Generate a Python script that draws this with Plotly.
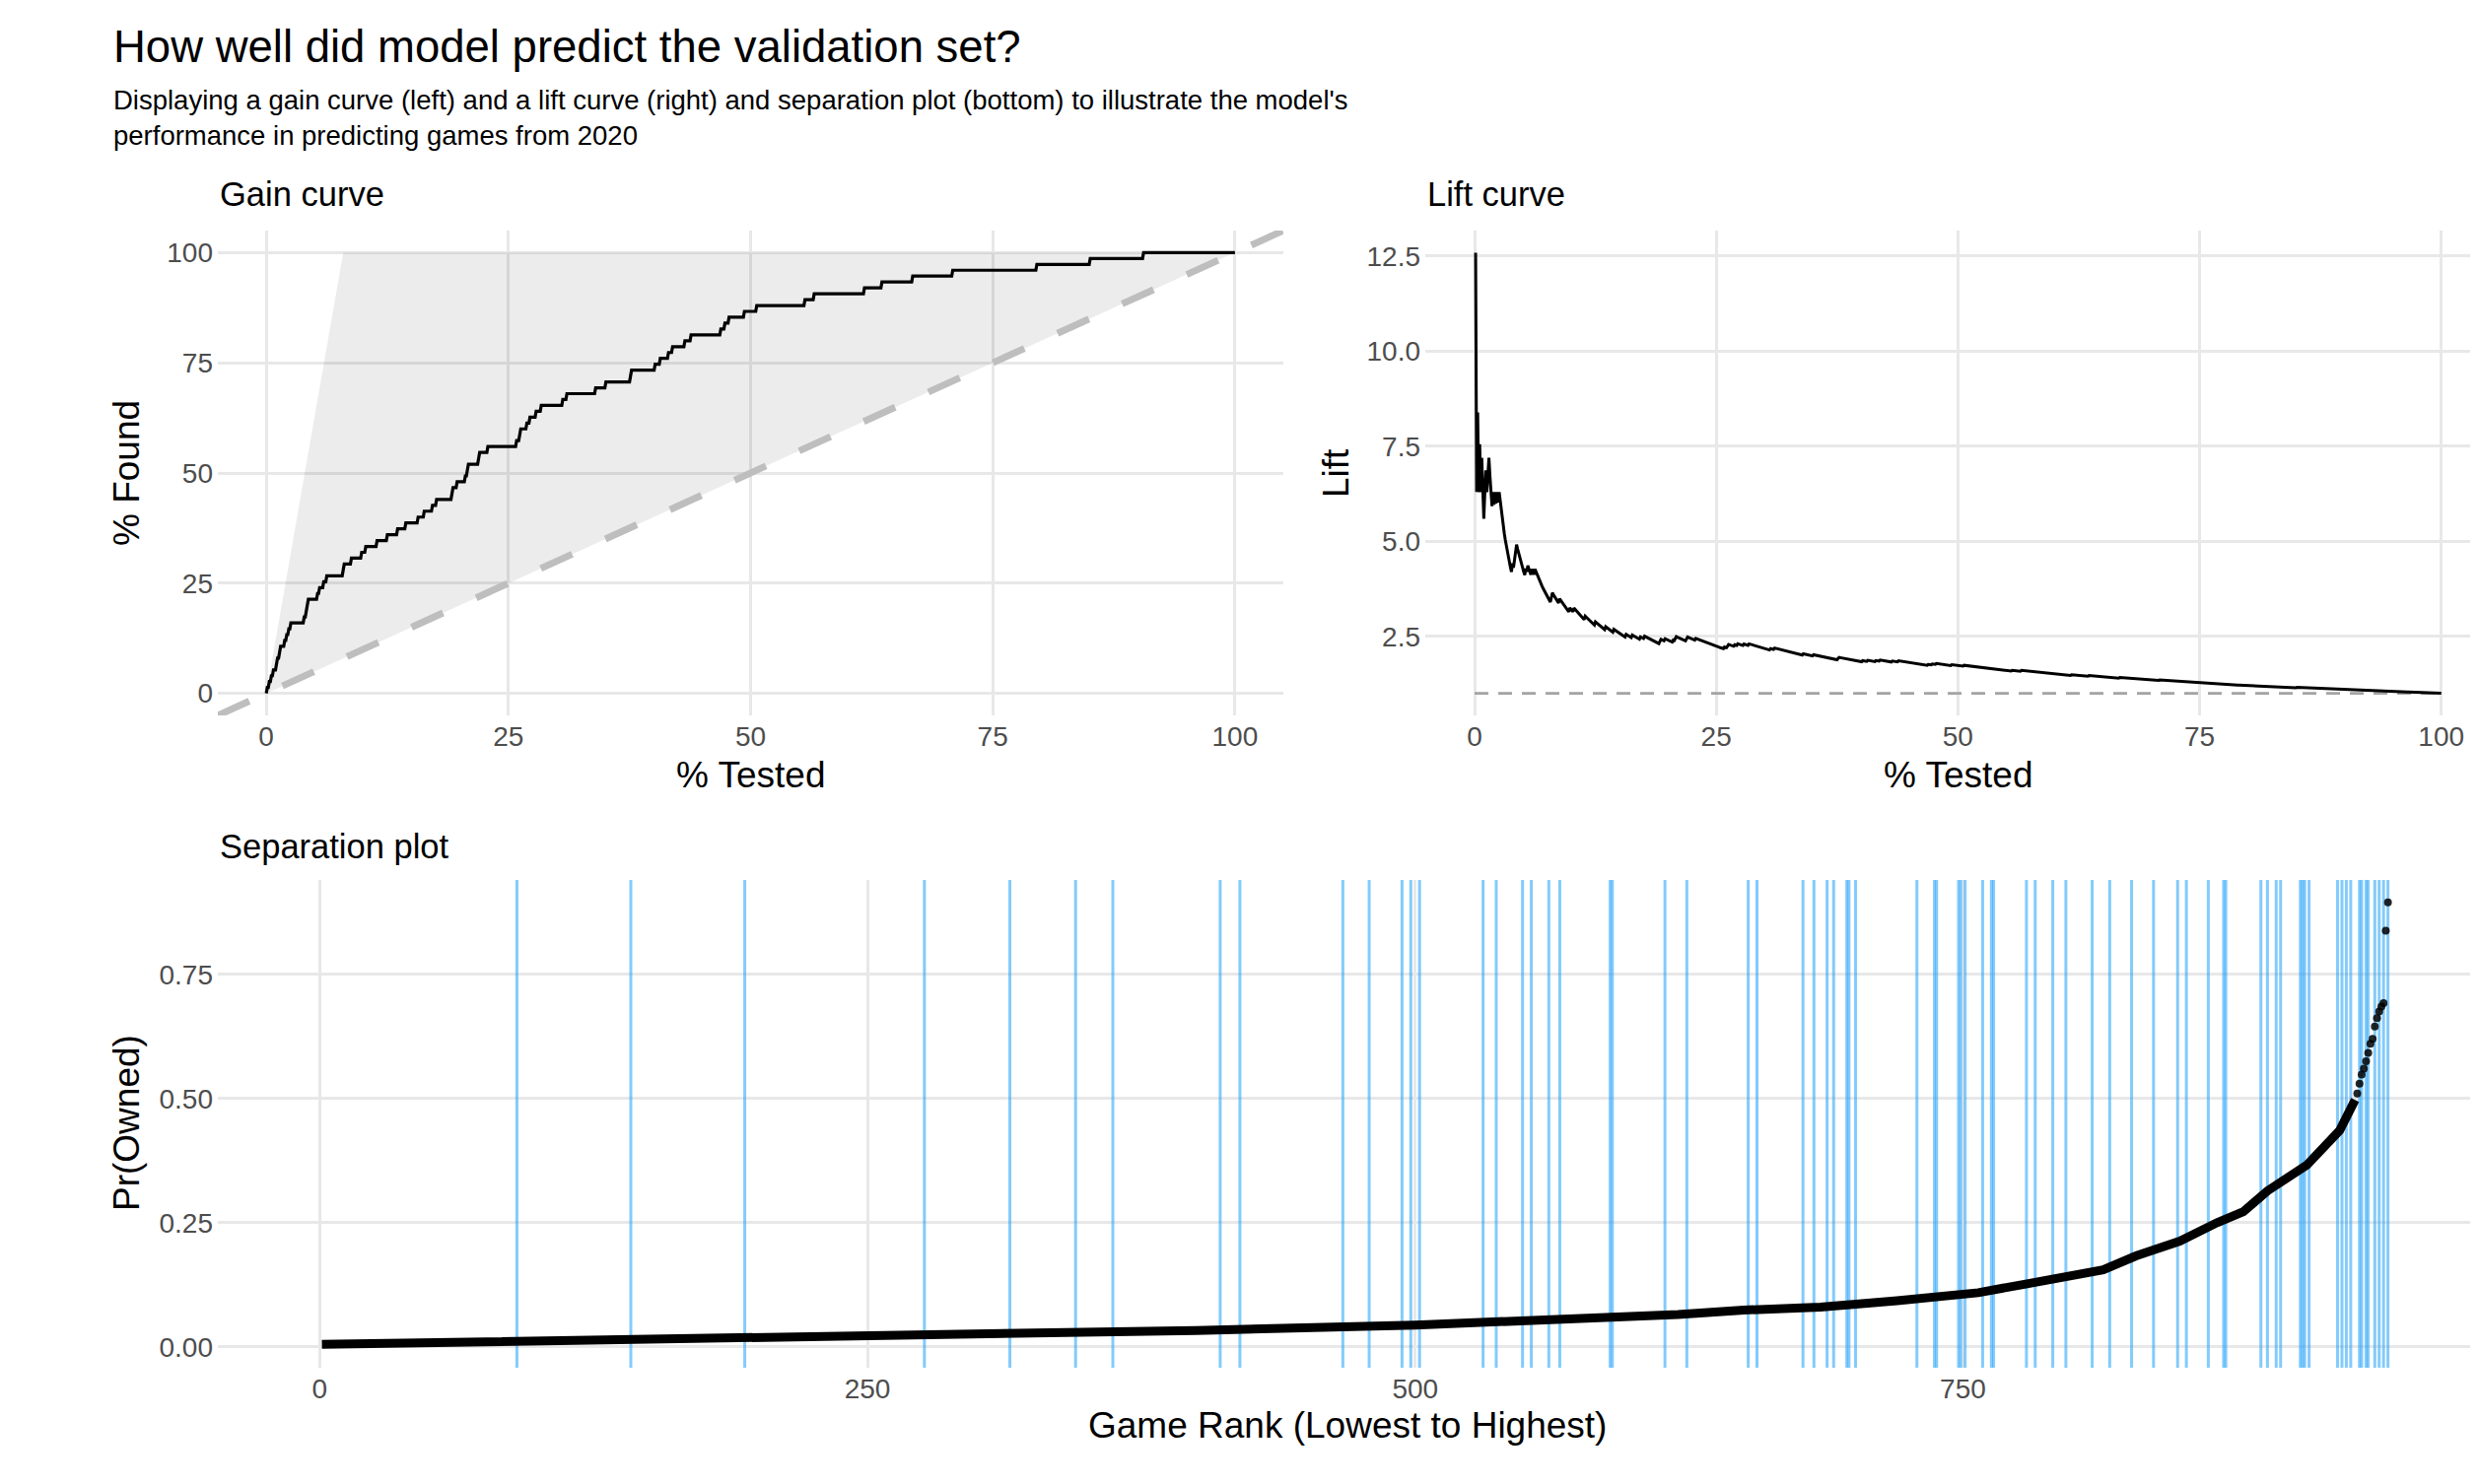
import numpy as np
import plotly.graph_objects as go

# ---------------- data ----------------
N_GAMES = 944  # games in the 2020 validation set, ranked 1 (lowest) .. 944 (highest)

# ranks of the games that were actually owned (blue lines in the separation plot)
OWNED_RANKS = [90, 142, 194, 276, 315, 345, 362, 411, 420, 467,
               479, 494, 498, 502, 531, 537, 549, 553, 561, 566,
               589, 590, 614, 624, 652, 656, 677, 682, 688, 691,
               697, 698, 701, 729, 737, 738, 748, 749, 751, 759,
               763, 764, 779, 783, 791, 797, 809, 817, 827, 837,
               848, 852, 862, 869, 870, 886, 889, 893, 895, 904,
               905, 906, 908, 921, 923, 925, 927, 931, 932, 934,
               935, 938, 940, 942, 944]

# predicted probability along the rank axis (dense part of the curve)
SEP_RANK = [1, 100, 250, 400, 500, 575, 620, 650, 685, 720, 757, 778,
            800, 814, 829, 849, 866, 878, 889, 907, 922, 929]
SEP_PROB = [0.005, 0.011, 0.022, 0.033, 0.044, 0.056, 0.065, 0.074, 0.080,
            0.093, 0.109, 0.126, 0.142, 0.155, 0.183, 0.213, 0.250, 0.272,
            0.314, 0.366, 0.436, 0.497]

# sparse points at the very top
TOP_RANK = [930, 931, 932, 933, 934, 935, 936, 937, 938, 939, 940, 941, 942, 943, 944]
TOP_PROB = [0.510, 0.530, 0.548, 0.560, 0.575, 0.592, 0.610, 0.620, 0.645,
            0.662, 0.675, 0.685, 0.692, 0.838, 0.895]

GAIN_TICKS = [0, 25, 50, 75, 100]
LIFT_TICKS = [2.5, 5.0, 7.5, 10.0, 12.5]
SEP_XTICKS = [0, 250, 500, 750]
SEP_YTICKS = [0, 0.25, 0.50, 0.75]

# ---------------- gain / lift from the owned ranks ----------------
owned = np.zeros(N_GAMES, dtype=bool)
owned[np.array(OWNED_RANKS) - 1] = True
from_top = owned[::-1]
found = np.concatenate([[0], np.cumsum(from_top)])
tested = np.arange(N_GAMES + 1) / N_GAMES * 100
gain = found / len(OWNED_RANKS) * 100
lift = gain[1:] / tested[1:]
best_x = len(OWNED_RANKS) / N_GAMES * 100

# ---------------- layout helpers ----------------
# the page has an 8px body margin, so the figure sits at (8, 8)
OFF = 8
W, H = 2514 - OFF, 1506 - OFF
FONT = "Liberation Sans, Arial, Helvetica, sans-serif"
GRID = "#E8E8E8"
TICKC = "#4D4D4D"
BLUE = "rgba(30,160,250,0.55)"


def px(x):
    """page pixel -> paper fraction"""
    return (x - OFF) / W


def py(y):
    return 1 - (y - OFF) / H


fig = go.Figure()

# gain curve
fig.add_trace(go.Scatter(x=[0, best_x, 100, 0], y=[0, 100, 100, 0], fill="toself",
                         fillcolor="rgba(0,0,0,0.075)", line=dict(width=0),
                         mode="lines", hoverinfo="skip", xaxis="x", yaxis="y"))
fig.add_trace(go.Scatter(x=[-5, 105], y=[-5, 105], mode="lines",
                         line=dict(color="#BEBEBE", width=7, dash="35px,37px"),
                         hoverinfo="skip", xaxis="x", yaxis="y"))
fig.add_trace(go.Scatter(x=tested, y=gain, mode="lines",
                         line=dict(color="black", width=3.2), xaxis="x", yaxis="y"))

# lift curve
fig.add_trace(go.Scatter(x=[0, 100], y=[1, 1], mode="lines",
                         line=dict(color="#A3A3A3", width=2.8, dash="14px,10px"),
                         hoverinfo="skip", xaxis="x2", yaxis="y2"))
fig.add_trace(go.Scatter(x=tested[1:], y=lift, mode="lines",
                         line=dict(color="black", width=3), xaxis="x2", yaxis="y2"))

# separation plot: one vertical line per owned game, then the probabilities
for r in OWNED_RANKS:
    fig.add_trace(go.Scatter(x=[r, r], y=[-0.042, 0.94], mode="lines",
                             line=dict(color=BLUE, width=3), hoverinfo="skip",
                             xaxis="x3", yaxis="y3"))
fig.add_trace(go.Scatter(x=SEP_RANK, y=SEP_PROB, mode="lines",
                         line=dict(color="black", width=9), xaxis="x3", yaxis="y3"))
fig.add_trace(go.Scatter(x=TOP_RANK, y=TOP_PROB, mode="markers",
                         marker=dict(color="rgba(0,0,0,0.85)", size=8),
                         xaxis="x3", yaxis="y3"))

axis_common = dict(showgrid=True, gridcolor=GRID, gridwidth=3, zeroline=False,
                   showline=False, ticks="", tickfont=dict(family=FONT, size=28, color=TICKC))

fig.update_layout(
    width=W, height=H, margin=dict(l=0, r=0, t=0, b=0),
    paper_bgcolor="white", plot_bgcolor="white", showlegend=False,
    font=dict(family=FONT, color="black"),
    xaxis=dict(domain=[px(221), px(1302)], range=[-5, 105], tickvals=GAIN_TICKS,
               anchor="y", ticklabelstandoff=2, **axis_common),
    yaxis=dict(domain=[py(726), py(234)], range=[-5, 105], tickvals=GAIN_TICKS,
               anchor="x", ticklabelstandoff=4, **axis_common),
    xaxis2=dict(domain=[px(1446), 1], range=[-5.1, 103.8], tickvals=GAIN_TICKS,
                anchor="y2", ticklabelstandoff=2, **axis_common),
    yaxis2=dict(domain=[py(726), py(234)], range=[0.42, 13.17], tickvals=LIFT_TICKS,
                ticktext=[f"{v:.1f}" for v in LIFT_TICKS],
                anchor="x2", ticklabelstandoff=4, **axis_common),
    xaxis3=dict(domain=[px(221), 1], range=[-46.5, 985.1], tickvals=SEP_XTICKS,
                anchor="y3", ticklabelstandoff=2, **axis_common),
    yaxis3=dict(domain=[py(1388), py(893)], range=[-0.042, 0.94], tickvals=SEP_YTICKS,
                ticktext=[f"{v:.2f}" for v in SEP_YTICKS],
                anchor="x3", ticklabelstandoff=4, **axis_common),
)


def note(text, x, y, size, xanchor="left", angle=0, color="black"):
    fig.add_annotation(text=text, x=px(x), y=py(y), xref="paper", yref="paper",
                       xanchor=xanchor, yanchor="middle", showarrow=False,
                       textangle=angle, align="left",
                       font=dict(family=FONT, size=size, color=color))


note("How well did model predict the validation set?", 113, 48, 45.5)
note("Displaying a gain curve (left) and a lift curve (right) and separation plot (bottom) "
     "to illustrate the model's<br>performance in predicting games from 2020", 113, 119, 27.5)
note("Gain curve", 221, 197, 34.5)
note("Lift curve", 1446, 197, 34.5)
note("Separation plot", 221, 859, 34.5)
note("% Tested", 762, 786, 37, xanchor="center")
note("% Tested", 1987, 786, 37, xanchor="center")
note("Game Rank (Lowest to Highest)", 1367, 1446, 37, xanchor="center")
note("% Found", 128, 480, 37, xanchor="center", angle=-90)
note("Lift", 1355, 480, 37, xanchor="center", angle=-90)
note("Pr(Owned)", 128, 1140, 37, xanchor="center", angle=-90)

fig.write_html("out.html")
